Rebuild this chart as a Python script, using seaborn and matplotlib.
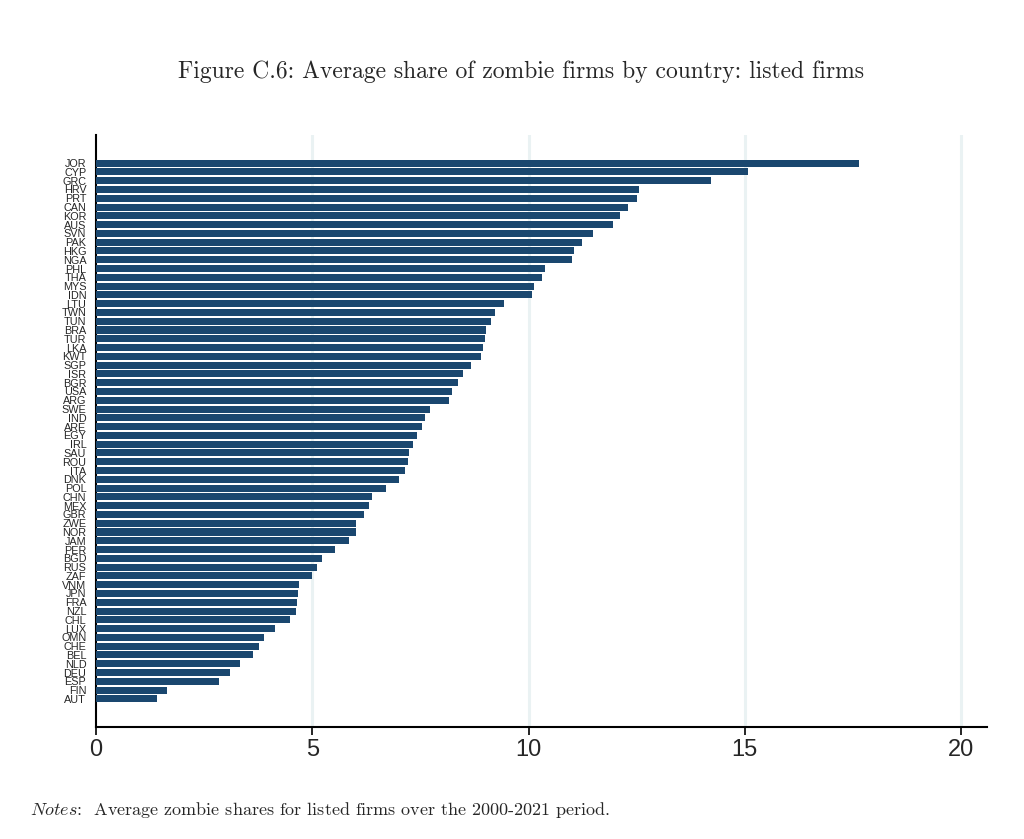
import numpy as np
import pandas as pd
import matplotlib
matplotlib.use('Agg')
import matplotlib.pyplot as plt
import seaborn as sns

# 國家代碼與平均殭屍企業比例
countries = ['JOR', 'CYP', 'GRC', 'HRV', 'PRT', 'CAN', 'KOR', 'AUS', 'SVN', 'PAK',
             'HKG', 'NGA', 'PHL', 'THA', 'MYS', 'IDN', 'LTU', 'TWN', 'TUN', 'BRA',
             'TUR', 'LKA', 'KWT', 'SGP', 'ISR', 'BGR', 'USA', 'ARG', 'SWE', 'IND',
             'ARE', 'EGY', 'IRL', 'SAU', 'ROU', 'ITA', 'DNK', 'POL', 'CHN', 'MEX',
             'GBR', 'ZWE', 'NOR', 'JAM', 'PER', 'BGD', 'RUS', 'ZAF', 'VNM', 'JPN',
             'FRA', 'NZL', 'CHL', 'LUX', 'OMN', 'CHE', 'BEL', 'NLD', 'DEU', 'ESP',
             'FIN', 'AUT']
shares = [17.63, 15.07, 14.23, 12.55, 12.50, 12.29, 12.11, 11.95, 11.50, 11.23,
          11.06, 11.00, 10.37, 10.32, 10.13, 10.09, 9.44, 9.22, 9.13, 9.01,
          8.99, 8.95, 8.90, 8.66, 8.49, 8.37, 8.23, 8.16, 7.72, 7.61,
          7.53, 7.41, 7.34, 7.23, 7.21, 7.14, 7.00, 6.71, 6.38, 6.32,
          6.20, 6.01, 6.01, 5.85, 5.52, 5.22, 5.11, 5.00, 4.70, 4.68,
          4.65, 4.63, 4.48, 4.15, 3.88, 3.78, 3.64, 3.32, 3.09, 2.85,
          1.63, 1.41]
xticks = [0, 5, 10, 15, 20]

df = pd.DataFrame({'country': countries, 'share': shares})

sns.set_style('white')
plt.rcParams['mathtext.fontset'] = 'cm'
narrow = ['Liberation Sans Narrow', 'Liberation Sans', 'DejaVu Sans']

fig = plt.figure(figsize=(10.24, 8.39), dpi=100)
ax = fig.add_axes([96/1024, 1-727/839, (987-96)/1024, (727-135)/839])

sns.barplot(data=df, y='country', x='share', orient='h', color='#1a476f',
            saturation=1, width=0.8, linewidth=0, ax=ax, zorder=3)

ax.set_xlim(0, 20.6)
ax.set_ylim(len(countries) - 1 + 3.2, -3.2)
ax.set_xticks(xticks)
ax.set_xticklabels([str(t) for t in xticks], fontsize=17, family=narrow)
ax.set_yticks(range(len(countries)))
ax.set_yticklabels(countries, fontsize=7.8, family=narrow)
ax.tick_params(axis='x', length=6, width=1.2, color='black', pad=3, bottom=True)
ax.tick_params(axis='y', length=0, pad=7)
ax.set_xlabel('')
ax.set_ylabel('')

for t in xticks[1:]:
    ax.axvline(t, color='#eaf2f3', lw=2.2, zorder=1)

sns.despine(ax=ax, top=True, right=True)
for s in ['left', 'bottom']:
    ax.spines[s].set_color('black')
    ax.spines[s].set_linewidth(1.5)

fig.text(0.509, 1-72/839, 'Figure C.6: Average share of zombie firms by country: listed firms',
         ha='center', va='center', fontsize=17, family='cmr10')
fig.text(30/1024, 1-810/839,
         r'$\mathit{Notes}$:  Average zombie shares for listed firms over the 2000-2021 period.',
         ha='left', va='center', fontsize=13, family='cmr10')

fig.savefig('out.png', dpi=100, facecolor='white')
